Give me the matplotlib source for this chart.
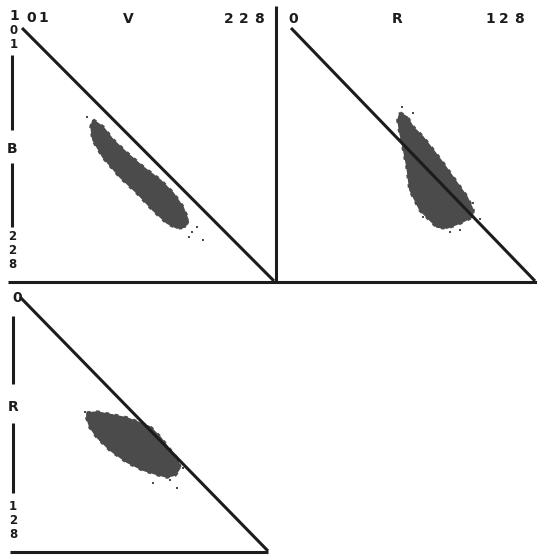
import matplotlib.pyplot as plt
from matplotlib.patches import Polygon

# band ranges (min, max)
V_range = [101, 228]
B_range = [101, 228]
R_range = [0, 128]

# cluster outlines (x, y in band units)
vb_x = [136.8, 141.8, 146.9, 153.9, 162.0, 170.6, 177.1, 182.1, 184.7, 183.2,
        179.1, 174.1, 167.0, 159.0, 150.4, 141.8, 136.8, 135.8]
vb_y = [147.2, 150.7, 157.2, 163.8, 170.8, 177.3, 183.8, 190.9, 197.4, 200.9,
        201.4, 198.9, 192.4, 183.8, 175.8, 165.8, 157.2, 150.7]

rb_x = [57.2, 60.9, 64.0, 69.2, 74.5, 79.7, 87.1, 92.3, 95.5, 95.0,
        88.7, 81.8, 76.6, 72.9, 67.7, 62.4, 60.9, 58.8, 57.2, 56.1]
rb_y = [143.7, 145.7, 150.7, 155.7, 162.2, 168.8, 178.8, 185.8, 192.4, 195.9,
        198.9, 201.4, 200.9, 197.4, 192.4, 182.3, 170.8, 160.7, 153.7, 147.2]

vr_x = [135.3, 140.4, 148.6, 155.8, 162.5, 167.6, 172.7, 177.8, 181.9, 182.9,
        180.4, 176.3, 172.2, 164.0, 155.8, 147.1, 140.4, 136.8, 135.3]
vr_y = [58.5, 58.0, 59.5, 61.0, 63.5, 65.5, 70.6, 77.1, 82.1, 86.2,
        89.7, 90.7, 89.7, 87.2, 83.2, 77.1, 70.6, 65.5, 61.0]

# stray pixels outside the clusters
vb_sx = [133.8, 192.2, 189.2, 186.7, 185.0]
vb_sy = [145.7, 207.4, 200.9, 203.4, 206.0]
rb_sx = [58.2, 64.0, 95.5, 88.7, 83.4, 69.2, 99.0]
rb_sy = [140.7, 143.7, 188.8, 202.4, 203.4, 195.9, 197.0]
vr_sx = [134.3, 142.0, 181.4, 177.8, 169.1, 184.5]
vr_sy = [58.0, 72.1, 96.3, 92.2, 93.7, 86.0]

W, H = 537, 555
INK = '#1c1c1c'
CLOUD = '#4b4b4b'
LW = 2.2

fig = plt.figure(figsize=(W / 100, H / 100), dpi=100)
fig.patch.set_facecolor('white')


def panel(x0, y0, x1, y1, xr, yr):
    ax = fig.add_axes([x0 / W, 1 - y1 / H, (x1 - x0) / W, (y1 - y0) / H])
    ax.set_xlim(xr)
    ax.set_ylim(yr[1], yr[0])
    ax.axis('off')
    ax.plot(xr, yr, color=INK, lw=LW, solid_capstyle='butt', clip_on=False)
    return ax


def cloud(ax, xs, ys, sx, sy):
    pts = list(zip(xs, ys))
    ax.add_patch(Polygon(pts, closed=True, facecolor=CLOUD, edgecolor=CLOUD, lw=1.2))
    ax.add_patch(Polygon(pts, closed=True, fill=False, edgecolor=CLOUD,
                         lw=2.6, linestyle=(0, (1, 1.6))))
    ax.scatter(sx, sy, s=3, color=CLOUD, marker='s', linewidths=0)


ax1 = panel(22, 28, 274, 281, V_range, B_range)
cloud(ax1, vb_x, vb_y, vb_sx, vb_sy)
ax2 = panel(291, 28, 535, 281, R_range, B_range)
cloud(ax2, rb_x, rb_y, rb_sx, rb_sy)
ax3 = panel(20, 297, 268, 551, V_range, R_range)
cloud(ax3, vr_x, vr_y, vr_sx, vr_sy)

# frame lines and labels in pixel space
ov = fig.add_axes([0, 0, 1, 1], zorder=-1)
ov.set_xlim(0, W)
ov.set_ylim(H, 0)
ov.axis('off')

segs = [
    ([8, 537], [282, 282]),      # bottom of top row
    ([276, 276], [6, 282]),      # separator
    ([12, 12], [55, 130]),       # B axis
    ([12, 12], [163, 227]),
    ([10, 268], [552, 552]),     # bottom of lower panel
    ([13, 13], [316, 384]),      # R axis
    ([13, 13], [423, 493]),
]
for xs, ys in segs:
    ov.plot(xs, ys, color=INK, lw=LW, solid_capstyle='butt')

fk = dict(fontweight='bold', color=INK, family='DejaVu Sans',
          ha='center', va='center')
# plotter text, one glyph at a time
labels = [
    ('1', 14, 16), ('0', 31, 18), ('1', 43, 18),
    ('V', 128, 19),
    ('2', 229, 19), ('2', 244, 19), ('8', 259, 19),
    ('0', 293, 19), ('R', 397, 19),
    ('1', 490, 19), ('2', 504, 19), ('8', 519, 19),
    ('B', 12, 149),
    ('0', 17, 298), ('R', 13, 407),
]
for s, x, y in labels:
    ov.text(x, y, s, fontsize=10, **fk)

# vertically stacked glyphs, a bit smaller so they do not touch
stacked = [
    ('0', 14, 31), ('1', 14, 45),
    ('2', 12, 236), ('2', 12, 250), ('8', 12, 264),
    ('1', 13, 507), ('2', 13, 521), ('8', 13, 535),
]
for s, x, y in stacked:
    ov.text(x, y, s, fontsize=8.5, **fk)

fig.savefig('out.png', dpi=100, facecolor='white')
